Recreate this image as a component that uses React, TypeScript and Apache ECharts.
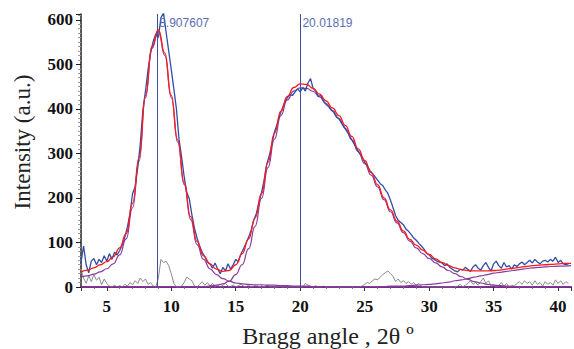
import React, { useEffect, useRef } from "react";
import * as echarts from "echarts";

// x grid: observed & residual every 0.2 from 3.0; fitted curves every 0.5 from 3.0
const X_START = 3;
const OBS_STEP = 0.2;
const FIT_STEP = 0.5;

const observed = [
  55, 92, 50, 32, 58, 64, 50, 62, 55, 70,
  58, 75, 62, 78, 72, 82, 95, 112, 135, 165,
  210, 225, 268, 322, 398, 440, 488, 525, 552, 568,
  560, 605, 615, 572, 530, 488, 445, 400, 332, 292,
  248, 212, 198, 162, 132, 110, 92, 78, 68, 56,
  52, 42, 54, 40, 30, 44, 36, 52, 40, 50,
  62, 56, 74, 86, 98, 112, 128, 150, 165, 190,
  212, 240, 275, 295, 320, 348, 365, 385, 400, 415,
  425, 432, 430, 438, 445, 438, 448, 440, 458, 468,
  446, 440, 428, 430, 418, 410, 405, 398, 392, 382,
  378, 368, 360, 350, 342, 330, 320, 310, 300, 292,
  280, 272, 262, 255, 248, 240, 232, 228, 218, 210,
  195, 178, 160, 150, 145, 140, 130, 125, 118, 110,
  105, 98, 92, 85, 76, 72, 65, 62, 58, 56,
  54, 48, 52, 44, 40, 36, 34, 40, 38, 44,
  40, 35, 45, 50, 42, 38, 48, 55, 44, 36,
  52, 58, 48, 42, 55, 45, 48, 40, 50, 46,
  52, 56, 50, 55, 60, 54, 62, 56, 52, 58,
  60, 56, 62, 58, 67, 55, 60, 52, 50, 52,
];

const residual = [
  40, 20, 8, 25, 12, 28, 15, 22, 5, 18,
  8, 2, 0, 4, 0, 3, 0, 6, 2, 10,
  5, 14, 8, 20, 12, 18, 6, 10, 2, 0,
  20, 62, 55, 58, 48, 30, 8, 0, 0, 2,
  10, 22, 18, 14, 2, 0, 6, 12, 4, 10,
  2, 8, 0, 5, 0, 4, 8, 2, 0, 5,
  0, 3, 6, 2, 0, 4, 0, 2, 5, 0,
  3, 0, 4, 2, 0, 0, 0, 2, 0, 0,
  3, 0, 0, 0, 0, 0, 0, 8, 4, 2,
  0, 3, 0, 0, 2, 0, 0, 0, 0, 0,
  0, 0, 0, 0, 0, 0, 0, 0, 0, 2,
  6, 10, 8, 14, 18, 16, 22, 28, 32, 36,
  30, 24, 12, 18, 10, 14, 8, 12, 6, 10,
  4, 8, 2, 0, 0, 0, 0, 0, 0, 0,
  0, 0, 0, 0, 0, 0, 2, 6, 0, 4,
  8, 14, 6, 10, 4, 12, 20, 8, 14, 2,
  6, 0, 4, 10, 2, 8, 0, 4, 2, 8,
  12, 6, 14, 8, 12, 4, 14, 6, 10, 2,
  12, 6, 10, 4, 16, 8, 14, 6, 12, 8,
];

const fitTotal = [
  34, 38, 43, 50, 57, 68, 88, 120, 188, 290,
  430, 540, 578, 525, 430, 330, 235, 158, 102, 70,
  52, 40, 35, 37, 50, 75, 108, 155, 210, 280,
  345, 395, 428, 448, 456, 455, 446, 433, 418, 402,
  385, 363, 338, 310, 284, 257, 230, 200, 173, 148,
  126, 107, 94, 83, 73, 63, 55, 48, 43, 39,
  37, 36, 36, 36, 37, 38, 40, 42, 44, 46,
  48, 49, 50, 51, 52, 53, 53,
];

const peak1 = [
  22, 25, 29, 34, 41, 52, 72, 108, 178, 282,
  425, 536, 574, 520, 425, 325, 230, 152, 95, 62,
  41, 28, 19, 13, 9, 7, 6, 5, 5, 4,
  4, 3, 3, 2, 2, 2, 1, 1, 1, 1,
  1, 0, 0, 0, 0, 0, 0, 0, 0, 0,
  0, 0, 0, 0, 0, 0, 0, 0, 0, 0,
  0, 0, 0, 0, 0, 0, 0, 0, 0, 0,
  0, 0, 0, 0, 0, 0, 0,
];

const peak2 = [
  0, 0, 0, 0, 0, 0, 0, 0, 0, 0,
  0, 0, 0, 0, 0, 0, 0, 0, 0, 1,
  2, 4, 7, 13, 28, 50, 86, 136, 199, 268,
  332, 385, 420, 440, 447, 446, 439, 427, 412, 396,
  378, 356, 331, 304, 277, 251, 225, 196, 169, 144,
  122, 103, 88, 75, 64, 54, 45, 37, 30, 23,
  17, 12, 9, 6, 4, 3, 2, 1, 1, 0,
  0, 0, 0, 0, 0, 0, 0,
];

const peak3 = [
  0, 0, 0, 0, 0, 0, 0, 0, 0, 0,
  0, 0, 0, 0, 0, 0, 0, 0, 0, 0,
  0, 0, 0, 0, 0, 0, 0, 0, 0, 0,
  0, 0, 0, 0, 0, 0, 0, 0, 0, 0,
  0, 0, 0, 0, 0, 1, 1, 1, 2, 2,
  2, 3, 4, 5, 6, 7, 9, 11, 14, 16,
  19, 22, 25, 28, 31, 33, 35, 37, 39, 41,
  43, 44, 45, 46, 47, 47, 48,
];

const peakPositions = [8.907607, 20.01819];
const peakLabels = ["8.907607", "20.01819"];

const X_MIN = 3;
const X_MAX = 41;
const Y_MIN = 0;
const Y_MAX = 613;

const yTitle = "Intensity (a.u.)";
const xTitle = "Bragg angle , 2θ º";

const SERIF = "'Liberation Serif', 'Times New Roman', serif";
const SANS = "'Liberation Sans', Arial, sans-serif";

function pairs(arr: number[], step: number) {
  return arr.map((v, i) => [Math.round((X_START + i * step) * 100) / 100, v]);
}

export default function App() {
  const ref = useRef<HTMLDivElement>(null);

  useEffect(() => {
    const el = ref.current;
    if (!el) return;
    const chart = echarts.init(el, null, { renderer: "svg" });

    const lineBase = {
      type: "line",
      showSymbol: false,
      symbol: "none",
      silent: true,
    };

    const tickLabel = {
      fontFamily: SERIF,
      fontWeight: "bold",
      fontSize: 17,
      color: "#111",
    };

    chart.setOption({
      animation: false,
      backgroundColor: "#ffffff",
      grid: { left: 81, right: 1, top: 14, bottom: 62, containLabel: false },
      xAxis: {
        type: "value",
        min: X_MIN,
        max: X_MAX,
        splitNumber: 8,
        axisLine: { show: true, lineStyle: { color: "#6a2a80", width: 2 } },
        axisTick: { show: true, length: 4, lineStyle: { color: "#333" } },
        minorTick: { show: true, splitNumber: 5, length: 2, lineStyle: { color: "#777" } },
        splitLine: { show: false },
        axisLabel: {
          ...tickLabel,
          margin: 11,
          formatter: (v: number) => (v % 5 === 0 ? String(v) : ""),
        },
      },
      yAxis: {
        type: "value",
        min: Y_MIN,
        max: Y_MAX,
        interval: 100,
        axisLine: { show: true, lineStyle: { color: "#222", width: 1.5 } },
        axisTick: { show: true, length: 5, lineStyle: { color: "#222" } },
        minorTick: { show: true, splitNumber: 10, length: 3, lineStyle: { color: "#999" } },
        splitLine: { show: false },
        axisLabel: {
          ...tickLabel,
          margin: 8,
          formatter: (v: number) => (v % 100 === 0 ? String(v) : ""),
        },
      },
      series: [
        {
          ...lineBase,
          name: "residual",
          data: pairs(residual, OBS_STEP),
          lineStyle: { color: "#8a8a8a", width: 1 },
          z: 2,
        },
        {
          ...lineBase,
          name: "peak1",
          smooth: true,
          smoothMonotone: "x",
          data: pairs(peak1, FIT_STEP),
          lineStyle: { color: "#8b3a9b", width: 1.2 },
          z: 3,
        },
        {
          ...lineBase,
          name: "peak2",
          smooth: true,
          smoothMonotone: "x",
          data: pairs(peak2, FIT_STEP),
          lineStyle: { color: "#8b3a9b", width: 1.2 },
          z: 3,
        },
        {
          ...lineBase,
          name: "peak3",
          smooth: true,
          smoothMonotone: "x",
          data: pairs(peak3, FIT_STEP),
          lineStyle: { color: "#8b3a9b", width: 1.2 },
          z: 3,
        },
        {
          ...lineBase,
          name: "observed",
          data: pairs(observed, OBS_STEP),
          lineStyle: { color: "#2f4ea6", width: 1.3 },
          z: 4,
          markLine: {
            silent: true,
            symbol: "none",
            label: { show: false },
            lineStyle: { color: "#3a4fa0", width: 1, type: "solid" },
            data: peakPositions.map((p) => ({ xAxis: p })),
          },
        },
        {
          ...lineBase,
          name: "fit",
          smooth: true,
          smoothMonotone: "x",
          data: pairs(fitTotal, FIT_STEP),
          lineStyle: { color: "#ff1a1a", width: 1.3 },
          z: 5,
        },
      ],
    });

    const labelEls = peakPositions.map((p, i) => {
      const px = chart.convertToPixel({ xAxisIndex: 0 }, p) as number;
      return {
        type: "text",
        x: px + 2,
        y: 23,
        style: {
          text: peakLabels[i],
          fill: "#5b6cb5",
          font: `12px ${SANS}`,
          textAlign: "left",
          textVerticalAlign: "middle",
        },
        z: 10,
      };
    });

    chart.setOption({
      graphic: [
        ...labelEls,
        {
          type: "text",
          x: 22,
          y: 142,
          rotation: Math.PI / 2,
          style: {
            text: yTitle,
            fill: "#222",
            font: `23px ${SERIF}`,
            textAlign: "center",
            textVerticalAlign: "middle",
          },
        },
        {
          type: "text",
          x: 328,
          y: 336,
          style: {
            text: xTitle,
            fill: "#222",
            font: `24px ${SERIF}`,
            textAlign: "center",
            textVerticalAlign: "middle",
          },
        },
      ],
    });

    return () => chart.dispose();
  }, []);

  return (
    <div
      ref={ref}
      style={{ position: "fixed", left: 0, top: 0, width: 574, height: 349 }}
    />
  );
}
